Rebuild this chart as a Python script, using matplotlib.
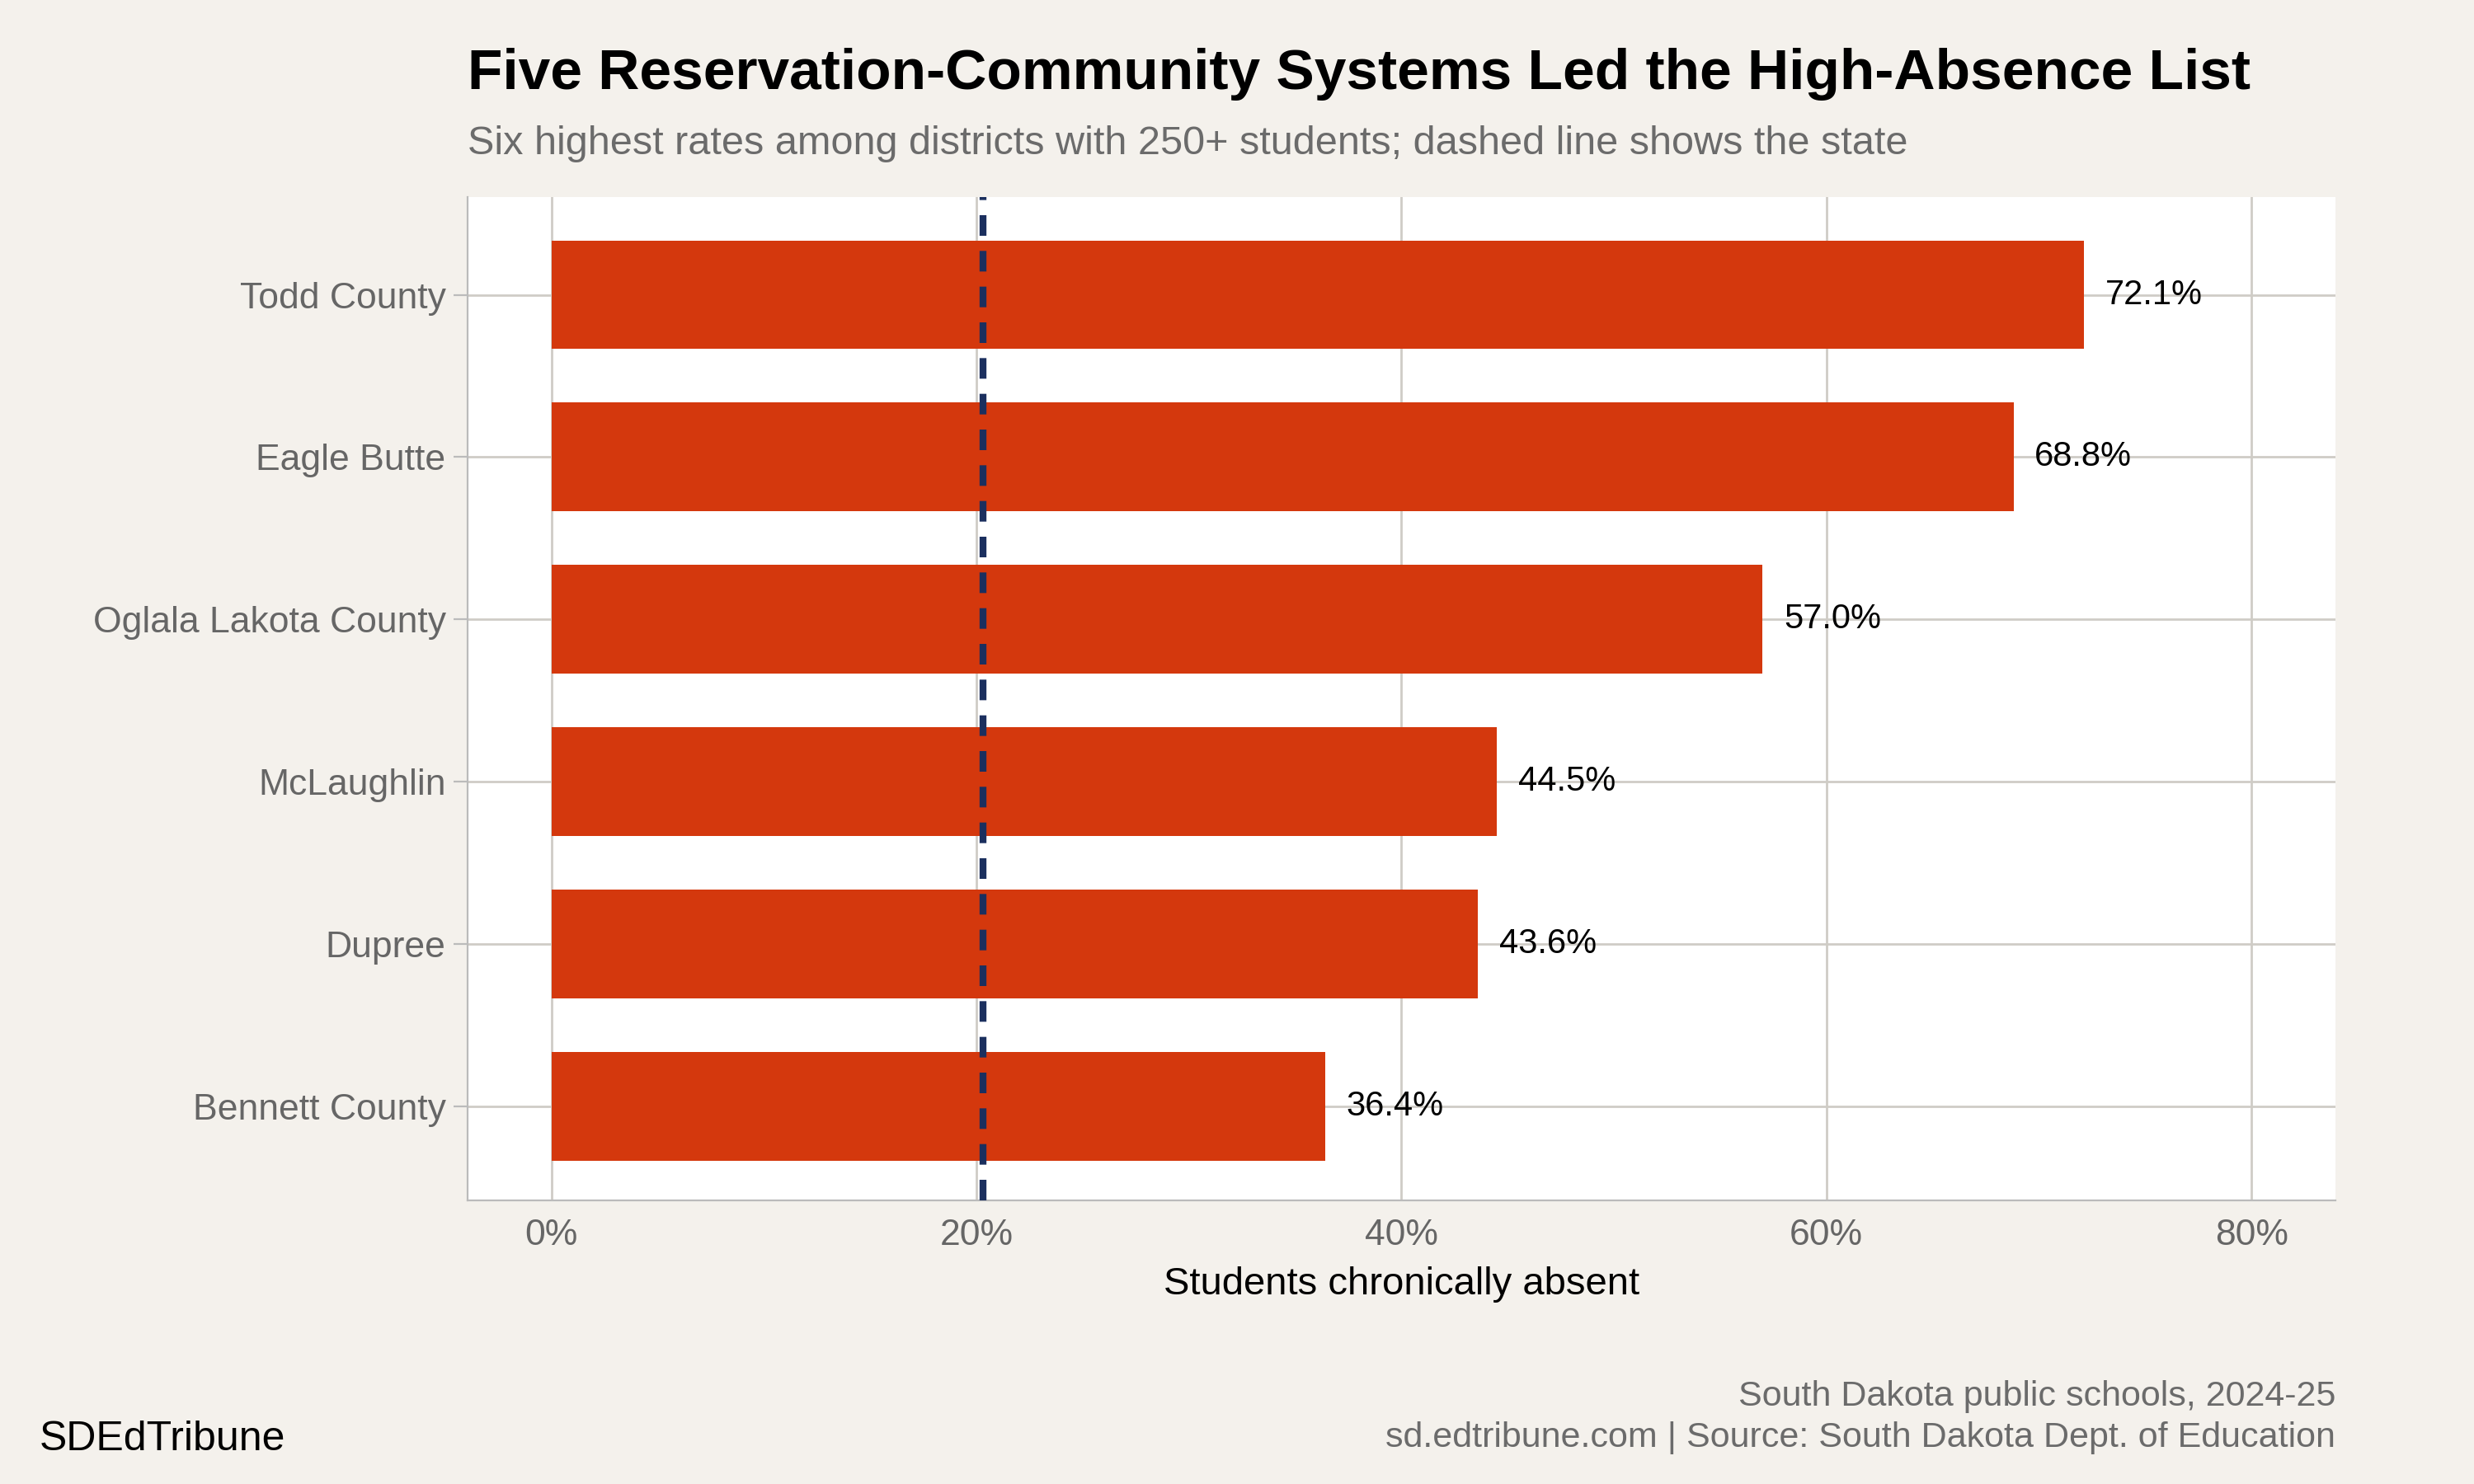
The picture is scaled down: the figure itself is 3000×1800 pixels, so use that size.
import matplotlib
matplotlib.use("Agg")
import matplotlib.pyplot as plt
from matplotlib.ticker import FuncFormatter

districts = ["Todd County", "Eagle Butte", "Oglala Lakota County", "McLaughlin", "Dupree", "Bennett County"]
rates = [72.1, 68.8, 57.0, 44.5, 43.6, 36.4]
state_rate = 20.3
xticks = [0, 20, 40, 60, 80]

plt.rcParams['font.family'] = ['Liberation Sans', 'DejaVu Sans']
bg = "#F4F1EC"
fig = plt.figure(figsize=(15, 9), dpi=200, facecolor=bg)
ax = fig.add_axes([0.189, 0.191, 0.755, 0.676])
ax.set_facecolor("white")

ypos = list(range(len(districts)))[::-1]
ax.barh(ypos, rates, height=0.67, color="#D4380D", zorder=3)
for y, v in zip(ypos, rates):
    ax.text(v + 1.0, y, f"{v:.1f}%", va="center", ha="left", fontsize=15, color="black", zorder=4)
ax.axvline(state_rate, color="#1B2F5E", lw=3, ls=(0, (3, 2.2)), zorder=5)

ax.set_xlim(-3.94, 83.95)
ax.set_ylim(-0.58, 5.6)
ax.set_yticks(ypos)
ax.set_yticklabels(districts)
ax.set_xticks(xticks)
ax.xaxis.set_major_formatter(FuncFormatter(lambda v, p: f"{v:.0f}%"))
ax.grid(True, color="#CFCCC6", lw=1, zorder=0)
ax.tick_params(axis="both", labelsize=16, labelcolor="#666666", color="#BBBBBB", length=6)
ax.tick_params(axis="x", length=0, pad=8)
for s in ["top", "right"]:
    ax.spines[s].set_visible(False)
for s in ["left", "bottom"]:
    ax.spines[s].set_color("#BBBBBB")
ax.set_xlabel("Students chronically absent", fontsize=17, color="black", labelpad=6)

fig.text(0.189, 0.950, "Five Reservation-Community Systems Led the High-Absence List",
         fontsize=25, fontweight="bold", ha="left", va="center")
fig.text(0.189, 0.903, "Six highest rates among districts with 250+ students; dashed line shows the state",
         fontsize=17.5, color="#6B6B6B", ha="left", va="center")
fig.text(0.944, 0.059, "South Dakota public schools, 2024-25", fontsize=15.5, color="#6B6B6B", ha="right", va="center")
fig.text(0.944, 0.031, "sd.edtribune.com | Source: South Dakota Dept. of Education", fontsize=15.5, color="#6B6B6B", ha="right", va="center")
fig.text(0.016, 0.030, "SDEdTribune", fontsize=18, color="black", ha="left", va="center")

fig.savefig("out.png", dpi=200, facecolor=bg)
